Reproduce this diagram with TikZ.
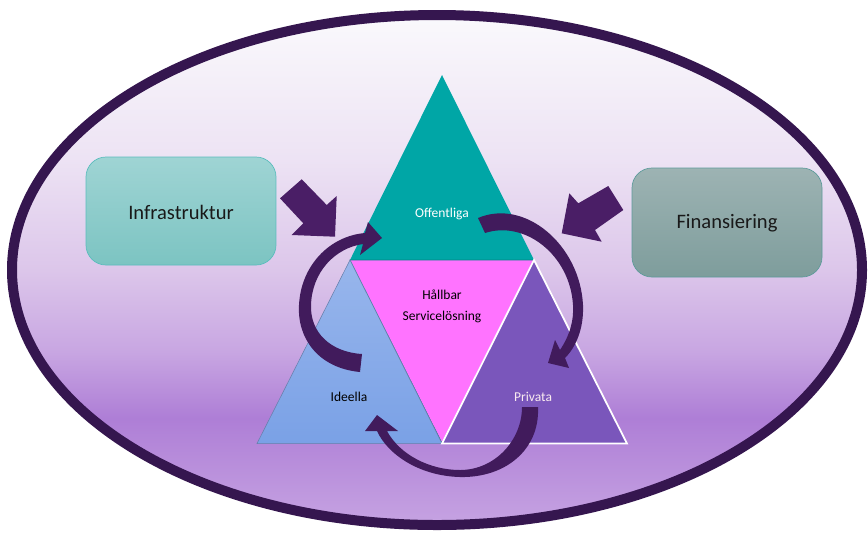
\documentclass[tikz,border=0pt]{standalone}
\usepackage{fontspec}
\setmainfont{Carlito}
\usepackage[dvipsnames]{xcolor}
\definecolor{ovalline}{HTML}{35164F}
\definecolor{ovalbot}{HTML}{C6A3E2}
\definecolor{ovallow}{HTML}{AE7ED6}
\definecolor{ovalmidlow}{HTML}{C8A6E2}
\definecolor{ovalmid}{HTML}{DCC6EA}
\definecolor{ovalhigh}{HTML}{EDE3F4}
\definecolor{ovaltop}{HTML}{FAF9FC}
\definecolor{arrowfill}{HTML}{4A1E66}
\definecolor{curvefill}{HTML}{411B5C}
\definecolor{tealtri}{HTML}{00A6A6}
\definecolor{magentatri}{HTML}{FF73FF}
\definecolor{bluetop}{HTML}{98B6EC}
\definecolor{bluebot}{HTML}{7AA1E6}
\definecolor{purpletri}{HTML}{7A56BB}
\definecolor{infratop}{HTML}{9FD4D4}
\definecolor{infrabot}{HTML}{7CC4C2}
\definecolor{infraline}{HTML}{5BBDBD}
\definecolor{finanstop}{HTML}{9DB3B3}
\definecolor{finansbot}{HTML}{7E9D9C}
\definecolor{finansline}{HTML}{5E9B9B}
\pgfdeclareverticalshading{ovalfill}{100bp}{color(0bp)=(ovalbot); color(25bp)=(ovalbot); color(35.5bp)=(ovallow); color(42bp)=(ovalmidlow); color(50bp)=(ovalmid); color(61bp)=(ovalhigh); color(75bp)=(ovaltop); color(100bp)=(ovaltop)}

\begin{document}
\begin{tikzpicture}[x=0.02cm, y=-0.02cm]
    \useasboundingbox (0,0) rectangle (868,532);
    \shadedraw[line width=0.2cm, draw=ovalline, shading=ovalfill] (437,270) ellipse [x radius=425, y radius=255];

    % side boxes
    \shadedraw[rounded corners=0.4cm, draw=infraline, top color=infratop, bottom color=infrabot] (86,157) rectangle (276,265);
    \shadedraw[rounded corners=0.4cm, draw=finansline, top color=finanstop, bottom color=finansbot] (632,168) rectangle (822,277);
    \node[font=\fontsize{11.7}{14}\selectfont, text=black!90] (infra) at (181,212) {Infrastruktur};
    \node[font=\fontsize{11.7}{14}\selectfont, text=black!90] (finans) at (727,223) {Finansiering};

    % block arrows
    \fill[arrowfill] (301.7,179.3) -- (326.7,205) -- (336.7,196) -- (335,236.7) -- (291.7,235) -- (303.3,223.3) -- (280,198.3) -- cycle;
    \fill[arrowfill] (608.3,186) -- (623.3,210) -- (595,230) -- (601.7,241.7) -- (561.7,233.3) -- (569.3,193.3) -- (578.3,203.3) -- cycle;

    % the four triangles
    \fill[tealtri] (442,75) -- (350,260) -- (534,260) -- cycle;
    \draw[fill=magentatri, draw=tealtri!80!black, line width=0.3pt] (350,260) -- (534,260) -- (442,443) -- cycle;
    \shadedraw[top color=bluetop, bottom color=bluebot, draw=bluebot!70!black!90, line width=0.3pt] (350,260) -- (442,443.5) -- (257,443.5) -- cycle;
    \draw[fill=purpletri, draw=white, line width=1pt] (534,260) -- (627,443.5) -- (442,443.5) -- cycle;

    % curved arrows
    \fill[curvefill] (360,372) .. controls (318,368) and (297,338) .. (299,305) .. controls (301,265) and (330,236) .. (365,233) -- (368,222) -- (382,238) -- (360,255) -- (363,244) .. controls (335,248) and (312,272) .. (311,305) .. controls (310,332) and (330,352) .. (362,354) -- cycle;
    \fill[curvefill] (478,218) .. controls (525,198) and (580,245) .. (583,305) .. controls (584,330) and (575,348) .. (565,358) -- (569,368) -- (548,363) -- (555,340) -- (560,350) .. controls (570,335) and (574,320) .. (573,305) .. controls (570,255) and (525,220) .. (485,233) -- cycle;
    \fill[curvefill] (538,407) .. controls (540,450) and (505,478) .. (460,477) .. controls (420,476) and (388,455) .. (377,431) -- (365,431) -- (377,415) -- (398,431) -- (387,431) .. controls (400,455) and (430,470) .. (460,470) .. controls (495,470) and (522,440) .. (522,407) -- cycle;

    \node[font=\fontsize{7.7}{9}\selectfont, text=white] (offentliga) at (442,214) {Offentliga};
    \node[font=\fontsize{7.7}{9}\selectfont] (hallbar) at (442,295) {Hållbar};
    \node[font=\fontsize{7.7}{9}\selectfont] (service) at (442,317) {Servicelösning};
    \node[font=\fontsize{7.7}{9}\selectfont] (ideella) at (349,397) {Ideella};
    \node[font=\fontsize{7.7}{9}\selectfont, text=white!92!purple] (privata) at (533,397) {Privata};
\end{tikzpicture}
\end{document}
